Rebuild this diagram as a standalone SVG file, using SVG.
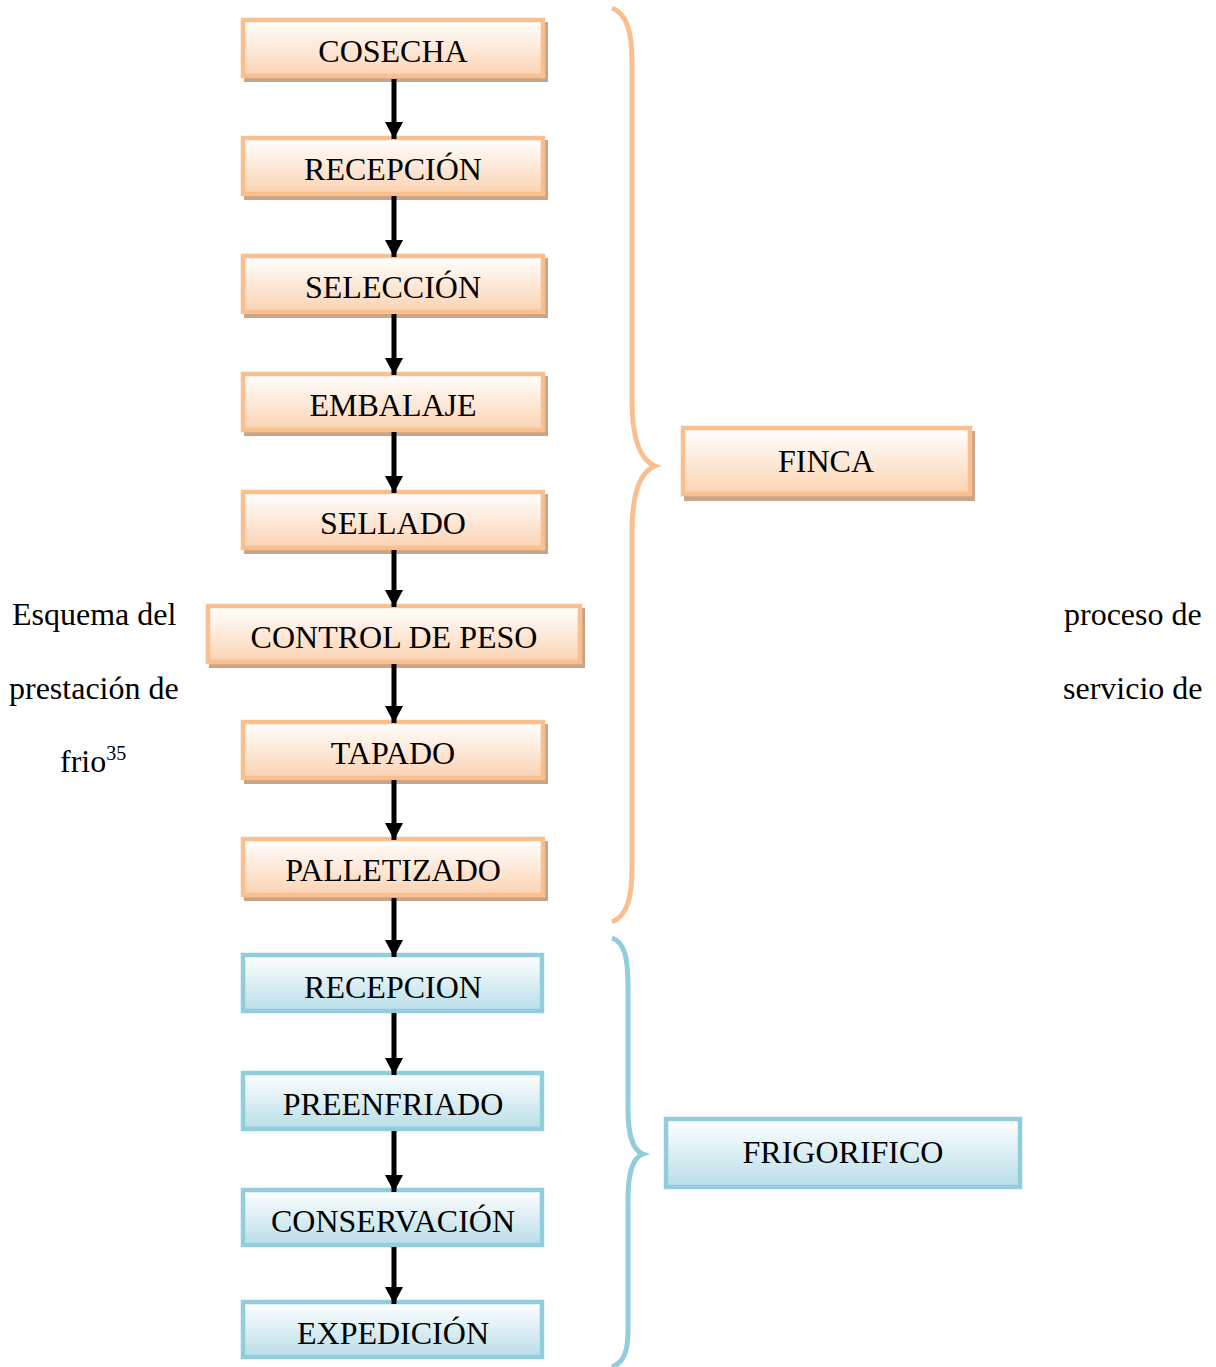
<svg xmlns="http://www.w3.org/2000/svg" width="1216" height="1367" viewBox="0 0 1216 1367">
<defs>
<linearGradient id="gO" x1="0" y1="0" x2="0" y2="1">
<stop offset="0" stop-color="#FFFFFF"/><stop offset="1" stop-color="#FBD3B2"/>
</linearGradient>
<linearGradient id="gB" x1="0" y1="0" x2="0" y2="1">
<stop offset="0" stop-color="#FFFFFF"/><stop offset="1" stop-color="#B8DEE8"/>
</linearGradient>
<marker id="ah" markerUnits="userSpaceOnUse" markerWidth="18" markerHeight="18" refX="17" refY="9" orient="auto">
<path d="M0,0 L17,9 L0,18 Z" fill="#000"/>
</marker>
</defs>
<style>
.o{fill:url(#gO);stroke:#FABF8F;stroke-width:4.5}
.b{fill:url(#gB);stroke:#92CDDC;stroke-width:4.5}
.sh{fill:#C9A487}
.t{font-family:"Liberation Serif","Times New Roman",serif;font-size:32px;fill:#000;text-anchor:middle}
.p{font-family:"Liberation Serif","Times New Roman",serif;font-size:32px;fill:#000}
.c{stroke:#000;stroke-width:5;fill:none;marker-end:url(#ah)}
</style>
<rect width="1216" height="1367" fill="#fff"/>
<g id="cosecha"><rect class="sh" x="244" y="22" width="304" height="60"/><rect class="o" x="243" y="20" width="300" height="56"/><text class="t" x="393" y="62">COSECHA</text></g>
<g id="recepcion1"><rect class="sh" x="244" y="140" width="304" height="60"/><rect class="o" x="243" y="138" width="300" height="56"/><text class="t" x="393" y="180">RECEPCIÓN</text></g>
<g id="seleccion"><rect class="sh" x="244" y="258" width="304" height="60"/><rect class="o" x="243" y="256" width="300" height="56"/><text class="t" x="393" y="298">SELECCIÓN</text></g>
<g id="embalaje"><rect class="sh" x="244" y="376" width="304" height="60"/><rect class="o" x="243" y="374" width="300" height="56"/><text class="t" x="393" y="416">EMBALAJE</text></g>
<g id="sellado"><rect class="sh" x="244" y="494" width="304" height="60"/><rect class="o" x="243" y="492" width="300" height="56"/><text class="t" x="393" y="534">SELLADO</text></g>
<g id="control"><rect class="sh" x="209" y="608" width="376" height="60"/><rect class="o" x="208" y="606" width="372" height="56"/><text class="t" x="394" y="648">CONTROL DE PESO</text></g>
<g id="tapado"><rect class="sh" x="244" y="724" width="304" height="60"/><rect class="o" x="243" y="722" width="300" height="56"/><text class="t" x="393" y="764">TAPADO</text></g>
<g id="palletizado"><rect class="sh" x="244" y="841" width="304" height="60"/><rect class="o" x="243" y="839" width="300" height="56"/><text class="t" x="393" y="881">PALLETIZADO</text></g>
<g id="finca"><rect class="sh" x="684" y="431" width="291" height="70"/><rect class="o" x="683" y="428" width="287" height="66"/><text class="t" x="826" y="472">FINCA</text></g>
<g id="recepcion2"><rect class="b" x="243" y="955" width="299" height="56"/><text class="t" x="393" y="998">RECEPCION</text></g>
<g id="preenfriado"><rect class="b" x="243" y="1073" width="299" height="56"/><text class="t" x="393" y="1115">PREENFRIADO</text></g>
<g id="conservacion"><rect class="b" x="243" y="1190" width="299" height="55"/><text class="t" x="393" y="1232">CONSERVACIÓN</text></g>
<g id="expedicion"><rect class="b" x="243" y="1302" width="299" height="55"/><text class="t" x="393" y="1344">EXPEDICIÓN</text></g>
<g id="frigorifico"><rect class="b" x="666" y="1119" width="354" height="68"/><text class="t" x="843" y="1163">FRIGORIFICO</text></g>
<g id="braces" fill="none" stroke-width="5">
<path stroke="#FABF8F" d="M612,8 C627,14 632,32 632,62 L632,400 C632,440 640,460 655,466 C640,472 632,492 632,532 L632,868 C632,898 627,916 612,922"/>
<path stroke="#92CDDC" d="M612,938 C624,942 628,956 628,986 L628,1108 C628,1134 632,1150 643,1154 C632,1158 628,1174 628,1200 L628,1330 C628,1352 624,1362 612,1367"/>
</g>
<g id="connectors">
<path class="c" d="M394,79 V139"/>
<path class="c" d="M394,196 V257"/>
<path class="c" d="M394,314 V375"/>
<path class="c" d="M394,432 V493"/>
<path class="c" d="M394,550 V607"/>
<path class="c" d="M394,664 V723"/>
<path class="c" d="M394,780 V840"/>
<path class="c" d="M394,898 V957"/>
<path class="c" d="M394,1013 V1075"/>
<path class="c" d="M394,1131 V1192"/>
<path class="c" d="M394,1247 V1304"/>
</g>
<g id="caption">
<text class="p" x="12" y="625">Esquema del</text>
<text class="p" x="9" y="699">prestación de</text>
<text class="p" x="60" y="772">frio<tspan font-size="20" dy="-12">35</tspan></text>
<text class="p" x="1064" y="625">proceso de</text>
<text class="p" x="1063" y="699">servicio de</text>
</g>
</svg>
